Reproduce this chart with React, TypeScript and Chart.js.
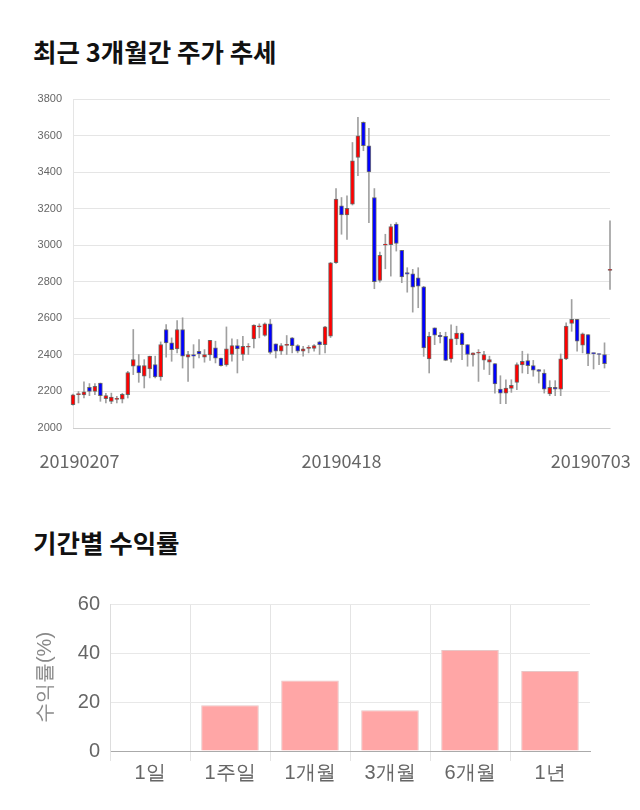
import React, { useEffect, useRef } from 'react';
import { Chart, registerables } from 'chart.js';
Chart.register(...registerables);

// Daily candles (Feb 7 2019 - Jul 3 2019)
const opens = [
  2127, 2183, 2181, 2222, 2200, 2246, 2160, 2146, 2157, 2158,
  2182, 2338, 2341, 2283, 2323, 2347, 2279, 2539, 2466, 2433,
  2539, 2387, 2402, 2420, 2387, 2400, 2438, 2383, 2345, 2402,
  2451, 2402, 2442, 2488, 2553, 2506, 2570, 2460, 2420, 2452,
  2493, 2451, 2420, 2436, 2435, 2471, 2456, 2502, 2904, 3215,
  3166, 3224, 3480, 3672, 3544, 3261, 2807, 3000, 3003, 3115,
  2972, 2851, 2844, 2822, 2773, 2378, 2548, 2507, 2502, 2378,
  2488, 2520, 2456, 2400, 2409, 2371, 2360, 2352, 2213, 2191,
  2217, 2250, 2345, 2369, 2341, 2319, 2301, 2186, 2222, 2213,
  2378, 2572, 2594, 2453, 2511, 2411, 2406, 2402, 2862,
];
const closes = [
  2182, 2187, 2198, 2200, 2228, 2177, 2177, 2169, 2160, 2184,
  2303, 2374, 2301, 2341, 2393, 2279, 2457, 2466, 2429, 2539,
  2393, 2402, 2393, 2405, 2402, 2479, 2382, 2341, 2433, 2451,
  2433, 2447, 2447, 2563, 2556, 2570, 2414, 2420, 2451, 2454,
  2451, 2420, 2433, 2440, 2451, 2456, 2554, 2904, 3252, 3166,
  3202, 3462, 3599, 3544, 3401, 2800, 2945, 3006, 3102, 3010,
  2826, 2842, 2771, 2776, 2438, 2502, 2508, 2500, 2370, 2488,
  2520, 2456, 2402, 2411, 2414, 2402, 2374, 2241, 2191, 2219,
  2233, 2347, 2365, 2341, 2316, 2310, 2213, 2222, 2213, 2378,
  2557, 2594, 2475, 2515, 2405, 2407, 2402, 2352, 2862,
];
const highs = [
  2185, 2200, 2252, 2243, 2243, 2246, 2190, 2191, 2173, 2190,
  2310, 2539, 2402, 2374, 2393, 2393, 2471, 2566, 2493, 2588,
  2603, 2420, 2456, 2484, 2429, 2479, 2475, 2383, 2553, 2488,
  2484, 2502, 2462, 2565, 2570, 2575, 2594, 2460, 2462, 2506,
  2495, 2456, 2447, 2451, 2456, 2475, 2556, 2906, 3310, 3261,
  3270, 3562, 3700, 3675, 3639, 3310, 2963, 3060, 3115, 3124,
  2972, 2877, 2868, 2877, 2775, 2524, 2548, 2524, 2524, 2564,
  2557, 2522, 2456, 2411, 2429, 2420, 2393, 2352, 2286, 2264,
  2264, 2356, 2420, 2405, 2370, 2320, 2319, 2259, 2259, 2405,
  2575, 2703, 2594, 2520, 2511, 2411, 2406, 2466, 3133,
];
const lows = [
  2125, 2137, 2164, 2177, 2182, 2146, 2137, 2133, 2137, 2137,
  2164, 2292, 2250, 2219, 2274, 2274, 2261, 2387, 2365, 2411,
  2328, 2255, 2328, 2383, 2360, 2370, 2356, 2338, 2338, 2365,
  2301, 2370, 2402, 2438, 2493, 2502, 2405, 2383, 2402, 2402,
  2411, 2411, 2393, 2411, 2420, 2402, 2411, 2495, 2900, 3060,
  3032, 3220, 3380, 3517, 3124, 2762, 2798, 2871, 2831, 2968,
  2795, 2743, 2634, 2658, 2392, 2301, 2456, 2466, 2368, 2360,
  2456, 2374, 2338, 2338, 2255, 2320, 2292, 2191, 2133, 2133,
  2195, 2210, 2301, 2297, 2283, 2246, 2191, 2177, 2177, 2177,
  2374, 2529, 2420, 2411, 2341, 2323, 2347, 2328, 2758,
];
const dateTickLabels = ['20190207', '20190418', '20190703'];

// Period returns
const periods = ['1일', '1주일', '1개월', '3개월', '6개월', '1년'];
const returns = [0, 18.7, 28.8, 16.6, 41.2, 32.7];

const titleStyle: React.CSSProperties = {
  position: 'absolute',
  left: 25,
  fontSize: 25.5,
  fontWeight: 'bold',
  lineHeight: '30px',
  color: '#111',
  whiteSpace: 'nowrap',
};

export default function App() {
  const priceRef = useRef<HTMLCanvasElement>(null);
  const retRef = useRef<HTMLCanvasElement>(null);

  useEffect(() => {
    const n = opens.length;
    const idx = opens.map((_, i) => i);
    const xTickPos = [1.2, (n - 1) / 2, 94.5];

    const priceChart = new Chart(priceRef.current!, {
      type: 'bar',
      data: {
        datasets: [
          {
            label: 'body',
            data: idx.map((i) => ({ x: i, y: [opens[i], closes[i]] })) as any,
            backgroundColor: idx.map((i) => (closes[i] >= opens[i] ? '#ff0000' : '#0000ff')),
            borderColor: 'rgba(70,70,70,0.75)',
            borderWidth: 1,
            borderSkipped: false,
            barThickness: 4,
            minBarLength: 1,
            grouped: false,
            order: 0,
            clip: false as any,
          },
          {
            label: 'wick',
            data: idx.map((i) => ({ x: i, y: [lows[i], highs[i]] })) as any,
            backgroundColor: '#a0a0a0',
            borderWidth: 0,
            barThickness: 1,
            grouped: false,
            order: 1,
            clip: false as any,
          },
        ],
      },
      options: {
        animation: false,
        responsive: false,
        layout: { padding: { left: 0, right: 22, top: 14, bottom: 0 } },
        plugins: { legend: { display: false }, tooltip: { enabled: false } },
        scales: {
          x: {
            type: 'linear',
            min: 0,
            max: n - 1,
            offset: false,
            grid: { display: false, drawTicks: false },
            border: { display: true, color: 'rgba(0,0,0,0.1)' },
            afterBuildTicks: (s: any) => {
              s.ticks = xTickPos.map((v) => ({ value: v }));
            },
            afterFit: (s: any) => {
              s.height = 62;
              s.paddingLeft = 0;
              s.paddingRight = 0;
            },
            ticks: {
              autoSkip: false,
              maxRotation: 0,
              padding: 22,
              color: '#666',
              font: { size: 18, family: '"Noto Sans CJK KR", sans-serif' },
              callback: (_v: any, i: number) => dateTickLabels[i],
            },
          },
          y: {
            min: 2000,
            max: 3800,
            grid: { color: 'rgba(0,0,0,0.1)', drawTicks: false },
            border: { color: 'rgba(0,0,0,0.1)' },
            afterFit: (s: any) => {
              s.width = 65;
              s.paddingTop = 0;
              s.paddingBottom = 0;
            },
            ticks: {
              stepSize: 200,
              padding: 11,
              color: '#666',
              font: { size: 11 },
              callback: (v: any) => String(v),
            },
          },
        },
      },
    });

    const retChart = new Chart(retRef.current!, {
      type: 'bar',
      data: {
        labels: periods,
        datasets: [
          {
            data: returns,
            backgroundColor: '#ffa6a6',
            borderColor: '#e8c6c6',
            borderWidth: 1,
          },
        ],
      },
      options: {
        animation: false,
        responsive: false,
        layout: { padding: { left: 21, right: 42, top: 19, bottom: 0 } },
        plugins: { legend: { display: false }, tooltip: { enabled: false } },
        scales: {
          x: {
            grid: {
              offset: true,
              tickLength: 10,
              color: (ctx: any) => (ctx.type === 'tick' ? '#e4e4e4' : 'rgba(0,0,0,0)'),
            },
            border: { color: '#aaa' },
            afterFit: (s: any) => {
              s.height = 49;
              s.paddingLeft = 0;
              s.paddingRight = 0;
            },
            ticks: { color: '#666', font: { size: 20 }, padding: 0, maxRotation: 0 },
          },
          y: {
            min: 0,
            max: 60,
            grid: {
              drawTicks: false,
              color: (ctx: any) => (ctx.tick && ctx.tick.value === 0 ? '#aaa' : '#e8e8e8'),
            },
            border: { color: '#ddd' },
            afterFit: (s: any) => {
              s.width = 81;
              s.paddingTop = 0;
              s.paddingBottom = 0;
            },
            title: { display: true, text: '수익률(%)', color: '#888', font: { size: 20 } },
            ticks: { stepSize: 20, color: '#666', font: { size: 20 }, padding: 10 },
          },
        },
      },
    });

    return () => {
      priceChart.destroy();
      retChart.destroy();
    };
  }, []);

  return (
    <div
      style={{
        position: 'relative',
        width: 624,
        height: 794,
        fontFamily: '"Noto Sans CJK KR", sans-serif',
      }}
    >
      <div style={{ ...titleStyle, top: 28 }}>최근 3개월간 주가 추세</div>
      <canvas
        ref={priceRef}
        width={624}
        height={405}
        style={{ position: 'absolute', left: 0, top: 77, width: 624, height: 405 }}
      />
      <div style={{ ...titleStyle, top: 519 }}>기간별 수익률</div>
      <canvas
        ref={retRef}
        width={624}
        height={215}
        style={{ position: 'absolute', left: 0, top: 577, width: 624, height: 215 }}
      />
    </div>
  );
}
